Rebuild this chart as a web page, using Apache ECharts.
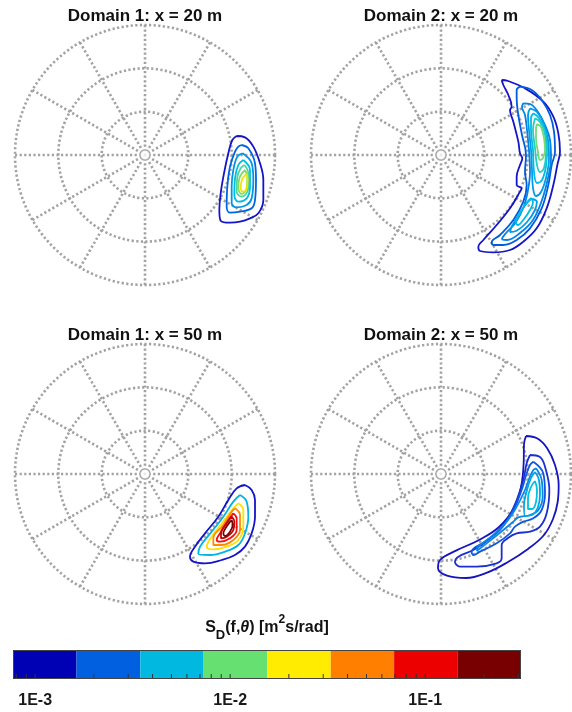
<!DOCTYPE html>
<html><head><meta charset="utf-8">
<script src="https://cdn.jsdelivr.net/npm/echarts@6/dist/echarts.min.js"></script>
<style>html,body{margin:0;padding:0;background:#fff}#c{width:572px;height:712px}</style>
</head><body><div id="c"></div>
<script>
// ---------- DATA ----------
// Contours: points are [east, north] components of the frequency vector (Hz),
// converted to [frequency, direction] for the polar axes.
const titles = ['Domain 1: x = 20 m', 'Domain 2: x = 20 m', 'Domain 1: x = 50 m', 'Domain 2: x = 50 m'];

// Domain 1, x = 20 m
const d1x20_L1 = [[0.275,0.057],[0.300,0.053],[0.325,0.025],[0.345,-0.025],[0.355,-0.075],[0.355,-0.135],[0.340,-0.175],[0.315,-0.190],[0.285,-0.200],[0.255,-0.203],[0.227,-0.197],[0.223,-0.165],[0.227,-0.115],[0.237,-0.055],[0.250,0.005],[0.262,0.045]];
const d1x20_L2 = [[0.290,0.030],[0.310,0.020],[0.330,-0.025],[0.333,-0.075],[0.330,-0.135],[0.320,-0.160],[0.285,-0.170],[0.255,-0.173],[0.245,-0.155],[0.247,-0.095],[0.255,-0.035],[0.270,0.010],[0.280,0.025]];
const d1x20_L3 = [[0.293,0.005],[0.320,-0.025],[0.325,-0.075],[0.320,-0.130],[0.305,-0.150],[0.275,-0.157],[0.260,-0.145],[0.260,-0.095],[0.265,-0.045],[0.277,-0.005]];
const d1x20_L4 = [[0.295,-0.015],[0.315,-0.045],[0.315,-0.095],[0.305,-0.130],[0.280,-0.140],[0.268,-0.120],[0.270,-0.070],[0.280,-0.030]];
const d1x20_L5 = [[0.298,-0.030],[0.310,-0.055],[0.310,-0.100],[0.290,-0.125],[0.275,-0.110],[0.277,-0.065],[0.287,-0.040]];
const d1x20_L6 = [[0.300,-0.045],[0.307,-0.065],[0.305,-0.100],[0.290,-0.117],[0.280,-0.100],[0.283,-0.070]];
const d1x20_L7 = [[0.305,-0.057],[0.308,-0.075],[0.303,-0.105],[0.293,-0.110],[0.287,-0.095],[0.293,-0.070]];

// Domain 2, x = 20 m
const d2x20_L1 = [[0.182,0.225],[0.201,0.222],[0.252,0.200],[0.307,0.160],[0.337,0.115],[0.352,0.065],[0.357,0.010],[0.349,-0.030],[0.337,-0.090],[0.317,-0.160],[0.287,-0.220],[0.247,-0.260],[0.207,-0.285],[0.157,-0.292],[0.117,-0.288],[0.112,-0.275],[0.127,-0.255],[0.167,-0.210],[0.207,-0.160],[0.237,-0.110],[0.242,-0.100],[0.227,-0.090],[0.227,-0.065],[0.237,-0.030],[0.244,-0.010],[0.237,0.005],[0.232,0.040],[0.217,0.100],[0.207,0.135],[0.212,0.145],[0.202,0.180],[0.187,0.210]];
const d2x20_L2 = [[0.237,0.205],[0.272,0.195],[0.302,0.165],[0.327,0.120],[0.339,0.070],[0.342,0.010],[0.332,-0.030],[0.322,-0.090],[0.302,-0.160],[0.267,-0.220],[0.227,-0.255],[0.187,-0.270],[0.157,-0.270],[0.152,-0.262],[0.177,-0.240],[0.217,-0.195],[0.247,-0.140],[0.257,-0.090],[0.252,-0.050],[0.255,0.000],[0.243,0.060],[0.232,0.120],[0.227,0.170],[0.227,0.195]];
const d2x20_L3 = [[0.247,0.155],[0.267,0.153],[0.291,0.129],[0.312,0.090],[0.327,0.045],[0.330,-0.009],[0.321,-0.069],[0.303,-0.135],[0.276,-0.195],[0.237,-0.234],[0.198,-0.255],[0.183,-0.252],[0.195,-0.234],[0.225,-0.201],[0.249,-0.153],[0.261,-0.105],[0.267,-0.051],[0.264,0.015],[0.258,0.075],[0.252,0.120],[0.243,0.144]];
const d2x20_L4a = [[0.267,0.140],[0.288,0.129],[0.309,0.093],[0.321,0.045],[0.324,-0.009],[0.315,-0.069],[0.300,-0.111],[0.285,-0.123],[0.276,-0.099],[0.273,-0.045],[0.270,0.015],[0.264,0.075],[0.261,0.120]];
const d2x20_L4b = [[0.288,-0.138],[0.282,-0.165],[0.258,-0.201],[0.225,-0.228],[0.207,-0.231],[0.213,-0.213],[0.237,-0.174],[0.258,-0.144],[0.273,-0.132]];
const d2x20_L5a = [[0.277,0.125],[0.294,0.111],[0.312,0.075],[0.318,0.021],[0.315,-0.033],[0.303,-0.075],[0.288,-0.084],[0.279,-0.051],[0.276,0.015],[0.270,0.075],[0.270,0.111]];
const d2x20_L5b = [[0.270,-0.129],[0.276,-0.141],[0.267,-0.165],[0.249,-0.192],[0.231,-0.210],[0.225,-0.204],[0.234,-0.180],[0.252,-0.150]];
const d2x20_L6 = [[0.282,0.110],[0.297,0.099],[0.312,0.060],[0.315,0.009],[0.309,-0.039],[0.297,-0.051],[0.288,-0.030],[0.282,0.021],[0.276,0.075]];
const d2x20_L7 = [[0.288,0.093],[0.300,0.084],[0.309,0.051],[0.312,0.015],[0.306,-0.009],[0.297,-0.015],[0.291,0.009],[0.285,0.051],[0.285,0.081]];

// Domain 1, x = 50 m
const d1x50_L1 = [[0.300,-0.033],[0.320,-0.048],[0.330,-0.078],[0.330,-0.128],[0.320,-0.178],[0.300,-0.218],[0.270,-0.243],[0.230,-0.258],[0.180,-0.268],[0.145,-0.263],[0.135,-0.248],[0.150,-0.218],[0.180,-0.178],[0.220,-0.128],[0.250,-0.078],[0.275,-0.043]];
const d1x50_L2 = [[0.285,-0.063],[0.305,-0.083],[0.310,-0.128],[0.300,-0.178],[0.280,-0.213],[0.240,-0.233],[0.195,-0.243],[0.160,-0.240],[0.165,-0.218],[0.200,-0.173],[0.235,-0.128],[0.265,-0.083]];
const d1x50_L3 = [[0.280,-0.088],[0.295,-0.108],[0.295,-0.158],[0.280,-0.198],[0.245,-0.218],[0.205,-0.226],[0.185,-0.218],[0.200,-0.188],[0.235,-0.143],[0.265,-0.103]];
const d1x50_L4 = [[0.270,-0.103],[0.285,-0.123],[0.285,-0.168],[0.265,-0.198],[0.230,-0.213],[0.205,-0.213],[0.205,-0.193],[0.235,-0.153],[0.260,-0.113]];
const d1x50_L5 = [[0.265,-0.118],[0.275,-0.133],[0.275,-0.168],[0.255,-0.193],[0.225,-0.203],[0.215,-0.198],[0.225,-0.178],[0.250,-0.138]];
const d1x50_L6 = [[0.260,-0.128],[0.268,-0.143],[0.265,-0.168],[0.245,-0.188],[0.228,-0.193],[0.228,-0.178],[0.245,-0.148]];
const d1x50_L7 = [[0.260,-0.138],[0.263,-0.153],[0.255,-0.173],[0.240,-0.186],[0.235,-0.178],[0.248,-0.153]];

// Domain 2, x = 50 m
const d2x50_L1 = [[0.255,0.114],[0.288,0.107],[0.318,0.078],[0.342,0.027],[0.353,-0.033],[0.350,-0.084],[0.336,-0.135],[0.309,-0.183],[0.261,-0.225],[0.201,-0.264],[0.138,-0.296],[0.075,-0.312],[0.018,-0.305],[-0.009,-0.282],[-0.003,-0.258],[0.045,-0.230],[0.114,-0.198],[0.174,-0.159],[0.219,-0.102],[0.240,-0.039],[0.248,0.033],[0.249,0.090]];
const d2x50_L2 = [[0.267,0.057],[0.297,0.051],[0.312,0.022],[0.325,-0.048],[0.317,-0.118],[0.297,-0.158],[0.267,-0.173],[0.227,-0.178],[0.201,-0.192],[0.182,-0.213],[0.182,-0.253],[0.167,-0.268],[0.107,-0.278],[0.057,-0.278],[0.042,-0.263],[0.052,-0.248],[0.097,-0.228],[0.147,-0.193],[0.197,-0.138],[0.227,-0.078],[0.247,-0.018],[0.257,0.032]];
const d2x50_L3 = [[0.277,0.037],[0.307,0.002],[0.312,-0.058],[0.302,-0.108],[0.277,-0.133],[0.247,-0.143],[0.222,-0.158],[0.207,-0.178],[0.167,-0.208],[0.117,-0.233],[0.097,-0.243],[0.092,-0.233],[0.132,-0.203],[0.177,-0.168],[0.217,-0.108],[0.242,-0.048],[0.257,0.002],[0.267,0.027]];
const d2x50_L4 = [[0.285,0.017],[0.302,-0.018],[0.305,-0.068],[0.292,-0.108],[0.267,-0.123],[0.232,-0.130],[0.217,-0.143],[0.187,-0.168],[0.137,-0.208],[0.108,-0.230],[0.111,-0.219],[0.157,-0.183],[0.197,-0.143],[0.227,-0.098],[0.252,-0.048],[0.267,-0.008],[0.277,0.012]];
const d2x50_L5 = [[0.282,0.006],[0.294,-0.018],[0.297,-0.060],[0.291,-0.099],[0.273,-0.123],[0.252,-0.126],[0.249,-0.093],[0.258,-0.048],[0.270,-0.012]];
const d2x50_L6 = [[0.282,-0.021],[0.288,-0.048],[0.285,-0.084],[0.273,-0.105],[0.261,-0.105],[0.261,-0.072],[0.270,-0.039]];

// Colour bar: level edges (m^2 s/rad), ticks, labels
const levelEdges = [7.7e-4, 1.63e-3, 3.46e-3, 7.31e-3, 1.55e-2, 3.28e-2, 6.93e-2, 0.147, 0.31];
const colorbarTicks = [8e-4, 9e-4, 1e-3, 2e-3, 3e-3, 4e-3, 5e-3, 6e-3, 7e-3, 8e-3, 9e-3, 1e-2, 2e-2, 3e-2, 4e-2, 5e-2, 6e-2, 7e-2, 8e-2, 9e-2, 0.1, 0.2, 0.3];
const colorbarLabels = [1e-3, 1e-2, 1e-1];

// ---------- STYLE / LAYOUT ----------
const levelColors = ['#0000b4','#0060e0','#00b8e0','#66e070','#ffec00','#ff8000','#ec0000','#780000'];
const panels = [
  {center:[145,155], titleY:16, contours:[d1x20_L1,d1x20_L2,d1x20_L3,d1x20_L4,d1x20_L5,d1x20_L6,d1x20_L7],
   colors:['#1414c8','#0064e6','#0096e6','#00bede','#4cd6a6','#84dc6c','#f2e400']},
  {center:[441,155], titleY:16, contours:[d2x20_L1,d2x20_L2,d2x20_L3,d2x20_L4a,d2x20_L4b,d2x20_L5a,d2x20_L5b,d2x20_L6,d2x20_L7],
   colors:['#1414c8','#005ce0','#0082e6','#009ce8','#009ce8','#00bce4','#00bce4','#22ccc8','#72dc78']},
  {center:[145,474], titleY:335, contours:[d1x50_L1,d1x50_L2,d1x50_L3,d1x50_L4,d1x50_L5,d1x50_L6,d1x50_L7],
   colors:['#1414c8','#00b4e4','#ffe000','#ff8a00','#f01010','#c80000','#780000']},
  {center:[441,474], titleY:335, contours:[d2x50_L1,d2x50_L2,d2x50_L3,d2x50_L4,d2x50_L5,d2x50_L6],
   colors:['#1414c0','#1a30d0','#0e58e0','#0a86e6','#00a6e8','#00c2e2']}
];
const FONT = '"Liberation Sans", Arial, Helvetica, sans-serif';
const FR_MAX = 0.39, RING = 0.13, R_PX = 130;
const dotted = {color:'#a2a2a2', width:2.6, type:[2.2,2.4], cap:'butt'};

const toPolar = pts => {
  const out = pts.map(([e, n]) => [Math.hypot(e, n), (Math.atan2(e, n) * 180 / Math.PI + 360) % 360]);
  out.push(out[0]);
  return out;
};

const series = [];
panels.forEach((p, i) => {
  p.contours.forEach((c, j) => {
    series.push({type:'line', coordinateSystem:'polar', polarIndex:i, data:toPolar(c),
      smooth:0.4, symbol:'none', silent:true, animation:false, z:5,
      lineStyle:{color:p.colors[j], width:1.8}});
  });
  series.push({type:'scatter', coordinateSystem:'polar', polarIndex:i, data:[[0,0]], symbol:'emptyCircle',
    symbolSize:7, silent:true, animation:false, itemStyle:{color:'#fff', borderColor:'#a2a2a2', borderWidth:2.4}});
});

// colour bar
series.push({type:'custom', xAxisIndex:0, yAxisIndex:0, silent:true, animation:false,
  data: levelColors.map((c, i) => [levelEdges[i], levelEdges[i+1], i]),
  encode:{x:[0,1]},
  renderItem:(params, api) => {
    const a = api.coord([api.value(0), 0]), b = api.coord([api.value(1), 1]);
    return {type:'rect', shape:{x:a[0], y:b[1], width:b[0]-a[0], height:a[1]-b[1]},
      style:{fill: levelColors[api.value(2)]}};
  }});
series.push({type:'custom', xAxisIndex:0, yAxisIndex:0, silent:true, animation:false, z:4,
  data: colorbarTicks.map(v => [v]), encode:{x:0},
  renderItem:(params, api) => {
    const a = api.coord([api.value(0), 0]);
    return {type:'line', shape:{x1:a[0], y1:a[1], x2:a[0], y2:a[1]-5}, style:{stroke:'#333', lineWidth:1}};
  }});
series.push({type:'custom', xAxisIndex:0, yAxisIndex:0, silent:true, animation:false, z:5,
  data: [[levelEdges[0], levelEdges[levelEdges.length-1]]], encode:{x:[0,1]},
  renderItem:(params, api) => {
    const a = api.coord([api.value(0), 0]), b = api.coord([api.value(1), 1]);
    return {type:'rect', shape:{x:a[0]+0.5, y:b[1]+0.5, width:b[0]-a[0]-1, height:a[1]-b[1]-1},
      style:{fill:null, stroke:'#444', lineWidth:1}};
  }});

const graphic = panels.map((p, i) => ({type:'text', x:p.center[0], y:p.titleY, silent:true,
  style:{text:titles[i], font:'bold 17px ' + FONT, fill:'#111', align:'center', verticalAlign:'middle',
    textAlign:'center', textVerticalAlign:'middle'}}));
graphic.push({type:'text', x:267, y:628, silent:true,
  style:{text:'{b|S}{sub|D}{b|(f,}{i|θ}{b|) [m}{sup|2}{b|s/rad]}', fill:'#111',
    align:'center', verticalAlign:'middle', textAlign:'center', textVerticalAlign:'middle',
    rich:{
      b:{fontFamily:FONT, fontWeight:'bold', fontSize:16, lineHeight:28, verticalAlign:'middle', fill:'#111'},
      i:{fontFamily:FONT, fontWeight:'bold', fontStyle:'italic', fontSize:16, verticalAlign:'middle', fill:'#111'},
      sub:{fontFamily:FONT, fontWeight:'bold', fontSize:13, verticalAlign:'bottom', fill:'#111'},
      sup:{fontFamily:FONT, fontWeight:'bold', fontSize:12, verticalAlign:'top', fill:'#111'}
    }}});

const option = {
  animation:false,
  backgroundColor:'#fff',
  polar: panels.map(p => ({center:p.center, radius:R_PX})),
  angleAxis: panels.map((p, i) => ({polarIndex:i, type:'value', min:0, max:360, interval:30, startAngle:90, clockwise:true,
    axisLine:{show:false}, axisTick:{show:false}, axisLabel:{show:false}, splitLine:{show:true, lineStyle:dotted}})),
  radiusAxis: panels.map((p, i) => ({polarIndex:i, type:'value', min:0, max:FR_MAX, interval:RING,
    axisLine:{show:false}, axisTick:{show:false}, axisLabel:{show:false}, splitLine:{show:true, lineStyle:dotted}})),
  grid:[{left:13, top:650, width:508, height:29, show:false}],
  xAxis:[{gridIndex:0, type:'log', logBase:10, min:levelEdges[0], max:levelEdges[levelEdges.length-1],
    axisLine:{show:false}, axisTick:{show:false}, splitLine:{show:false},
    axisLabel:{show:true, margin:14, fontSize:16, fontWeight:'bold', fontFamily:FONT, color:'#1a1a1a',
      showMinLabel:false, showMaxLabel:false,
      formatter: v => {
        const e = Math.log10(v);
        const ok = colorbarLabels.some(l => Math.abs(Math.log10(l) - e) < 1e-6);
        return ok ? '1E' + Math.round(e) : '';
      }}}],
  yAxis:[{gridIndex:0, type:'value', min:0, max:1, show:false}],
  graphic: graphic,
  series: series
};
const chart = echarts.init(document.getElementById('c'));
chart.setOption(option);
</script>
</body></html>
